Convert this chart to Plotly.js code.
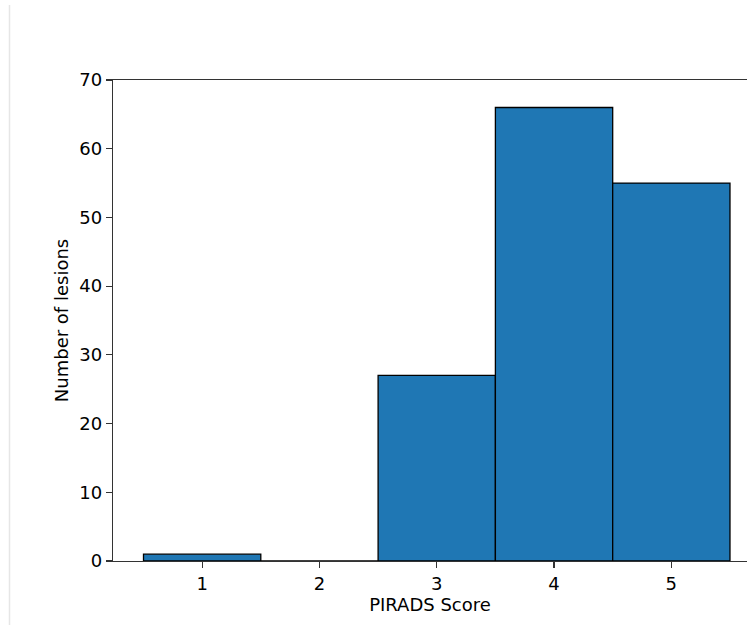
<!DOCTYPE html>
<html>
<head>
<meta charset="utf-8">
<script src="https://cdn.plot.ly/plotly-3.0.1.min.js"></script>
<style>html,body{margin:0;padding:0;background:#fff;overflow:hidden;}#chart{width:747px;height:625px;}</style>
</head>
<body>
<div id="chart"></div>
<script>
const scores = [1, 2, 3, 4, 5];
const counts = [1, 0, 27, 66, 55];
const xTicks = [1, 2, 3, 4, 5];
const yTicks = [0, 10, 20, 30, 40, 50, 60, 70];

const trace = {
  type: 'bar',
  x: scores,
  y: counts,
  width: 1,
  marker: {color: '#1f77b4', line: {color: '#000000', width: 1.3}},
  hoverinfo: 'x+y'
};

const FONT = 'DejaVu Sans';
const layout = {
  width: 747,
  height: 625,
  margin: {l: 113, r: 0, t: 80, b: 64, pad: 0},
  paper_bgcolor: '#ffffff',
  plot_bgcolor: '#ffffff',
  showlegend: false,
  bargap: 0,
  font: {family: FONT, size: 18, color: '#000000'},
  xaxis: {
    range: [0.24, 5.645],
    tickvals: xTicks,
    ticktext: xTicks.map(String),
    ticks: 'outside', ticklen: 6, tickwidth: 1.2, tickcolor: '#333333',
    showline: true, linecolor: '#333333', linewidth: 1.2, mirror: true,
    showgrid: false, zeroline: false,
    automargin: false,
    tickfont: {family: FONT, size: 18, color: '#000000'},
    title: {text: 'PIRADS Score', font: {family: FONT, size: 18, color: '#000000'}, standoff: 4}
  },
  yaxis: {
    range: [0, 70],
    tickvals: yTicks,
    ticktext: yTicks.map(String),
    ticks: 'outside', ticklen: 6, tickwidth: 1.2, tickcolor: '#333333',
    showline: true, linecolor: '#333333', linewidth: 1.2, mirror: false,
    showgrid: false, zeroline: false,
    automargin: false,
    tickfont: {family: FONT, size: 18, color: '#000000'},
    title: {text: 'Number of lesions', font: {family: FONT, size: 18, color: '#000000'}, standoff: 6}
  },
  shapes: [
    {
      type: 'line', xref: 'paper', yref: 'paper', layer: 'above',
      x0: 0.997, x1: 0.997, y0: 0.003, y1: 0.997,
      line: {color: '#ffffff', width: 4}
    },
    {
      type: 'line', xref: 'paper', yref: 'paper',
      x0: (9.5 - 113) / 634, x1: (9.5 - 113) / 634,
      y0: (561 - 625) / 481, y1: (561 - 5) / 481,
      line: {color: '#e6e6e6', width: 1.5}
    }
  ]
};

Plotly.newPlot('chart', [trace], layout, {displayModeBar: false, staticPlot: true});
</script>
</body>
</html>
